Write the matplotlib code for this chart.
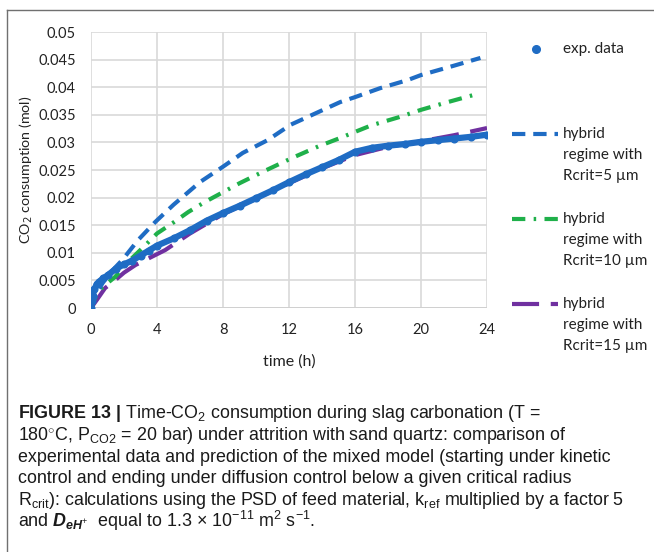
import matplotlib
matplotlib.use('Agg')
import matplotlib.pyplot as plt
from matplotlib.lines import Line2D

plt.rcParams['font.family'] = ['Lato', 'DejaVu Sans']
plt.rcParams['mathtext.fontset'] = 'custom'
plt.rcParams['mathtext.rm'] = 'Liberation Sans'
plt.rcParams['mathtext.it'] = 'Liberation Sans:italic'
plt.rcParams['mathtext.bf'] = 'Liberation Sans:bold'
plt.rcParams['mathtext.bfit'] = 'Liberation Sans:italic:bold'

# ------------------------------------------------------------
# data (time in h, CO2 in mol)

t_exp = [0, 0.05, 0.1, 0.2, 0.35, 0.5, 0.75, 1.0, 1.5, 2.0, 2.5, 3.0, 3.5,
         4.0, 5.0, 6.0, 7.0, 8.0, 9.0, 10, 11, 12, 13, 14, 15, 16, 17, 18,
         19, 20, 21, 22, 23, 24]
co2_exp = [0, 0.0012, 0.0022, 0.0034, 0.0043, 0.0048, 0.0054, 0.0059,
           0.0071, 0.0079, 0.0086, 0.0095, 0.0104, 0.0113, 0.0126, 0.0141,
           0.0158, 0.0172, 0.0185, 0.0199, 0.0213, 0.0228, 0.0242, 0.0255,
           0.0268, 0.0283, 0.0290, 0.0294, 0.0297, 0.0301, 0.0304, 0.0307,
           0.0310, 0.0314]

t_r5 = [0, 0.3, 0.7, 1.2, 1.9, 2.85, 3.9, 5, 6.6, 8, 9.2, 10.7, 12.1, 14,
        15.1, 16, 17.5, 19.2, 20, 22, 23.6]
co2_r5 = [0, 0.0025, 0.0045, 0.0065, 0.0087, 0.0123, 0.0156, 0.0187, 0.0228,
          0.0256, 0.0281, 0.0304, 0.0332, 0.0358, 0.0373, 0.0382, 0.0398,
          0.0413, 0.0422, 0.0439, 0.0453]

t_r10 = [0, 0.3, 0.7, 1.45, 2.3, 3.3, 4, 5, 5.9, 6.9, 9.0, 10.5, 12.2, 13.8,
         15.1, 16, 17, 18.7, 20, 21.5, 23.2]
co2_r10 = [0, 0.0022, 0.0038, 0.0056, 0.0085, 0.0114, 0.0135, 0.0155,
           0.0174, 0.0192, 0.0226, 0.0248, 0.0272, 0.0293, 0.0308, 0.0319,
           0.0331, 0.0346, 0.0359, 0.0372, 0.0386]

t_r15 = [0, 0.36, 0.85, 1.45, 2.0, 2.7, 3.5, 4.5, 6, 8, 10, 12, 14, 16, 18,
         20, 22, 24]
co2_r15 = [0, 0.0015, 0.0036, 0.0050, 0.0064, 0.0078, 0.0090, 0.0105,
           0.0135, 0.0170, 0.0198, 0.0226, 0.0253, 0.0277, 0.0292, 0.0302,
           0.0313, 0.0326]

x_ticks = [0, 4, 8, 12, 16, 20, 24]
y_ticks = [0, 0.005, 0.01, 0.015, 0.02, 0.025, 0.03, 0.035, 0.04, 0.045, 0.05]
y_ticklabels = ['0', '0.005', '0.01', '0.015', '0.02', '0.025', '0.03',
                '0.035', '0.04', '0.045', '0.05']

labels = [['exp. data'],
          ['hybrid', 'regime with', 'Rcrit=5 \u00b5m'],
          ['hybrid', 'regime with', 'Rcrit=10 \u00b5m'],
          ['hybrid', 'regime with', 'Rcrit=15 \u00b5m']]

caption = [
    r'$\mathbf{FIGURE\ 13\ |}$ Time-CO$_2$ consumption during slag carbonation (T =',
    r'180$^{\circ}$C, P$_{\mathrm{CO2}}$ = 20 bar) under attrition with sand quartz: comparison of',
    'experimental data and prediction of the mixed model (starting under kinetic',
    'control and ending under diffusion control below a given critical radius',
    r'R$_{\mathrm{crit}}$): calculations using the PSD of feed material, k$_{\mathrm{ref}}$ multiplied by a factor 5',
    r'and $\mathbfit{D}_{\mathbfit{eH}^{+}}$  equal to 1.3 $\times$ 10$^{-11}$ m$^2$ s$^{-1}$.',
]

# ------------------------------------------------------------
c_blue = '#1f6cc4'
c_green = '#1fb04a'
c_purple = '#7030a0'
ls_r5 = (0, (3.2, 1.9))
ls_r10 = (0, (3.2, 2.0, 0.6, 2.0))
ls_r15 = (0, (6.5, 2.8))

W, H = 654, 552
fig = plt.figure(figsize=(W / 100, H / 100), dpi=100)
ax = fig.add_axes([91 / W, 1 - 308 / H, (487 - 91) / W, (308 - 32) / H])

ax.plot(t_r15, co2_r15, color=c_purple, lw=3.0, linestyle=ls_r15, zorder=3)
ax.plot(t_r10, co2_r10, color=c_green, lw=3.0, linestyle=ls_r10, zorder=3)
ax.plot(t_r5, co2_r5, color=c_blue, lw=3.0, linestyle=ls_r5, zorder=3)
ax.plot(t_exp, co2_exp, color=c_blue, lw=4.5, marker='o', ms=4.8,
        solid_capstyle='round', zorder=4)

ax.set_xlim(0, 24)
ax.set_ylim(0, 0.05)
ax.set_xticks(x_ticks)
ax.set_yticks(y_ticks)
ax.set_yticklabels(y_ticklabels)
ax.tick_params(length=0, labelsize=10.5, colors='#222222', pad=11)
ax.grid(True, color='#d9d9d9', lw=1.2)
ax.set_axisbelow(True)
for s in ax.spines.values():
    s.set_visible(False)
ax.axhline(0, color='#d0d0d0', lw=1.4, zorder=1)

ax.set_xlabel('time (h)', fontsize=11.5, color='#222222', labelpad=12)
ax.set_ylabel('CO$_2$ consumption (mol)', fontsize=10.3, color='#222222',
              labelpad=2, math_fontfamily='dejavusans')

# legend drawn by hand (handles aligned with first text line)
def fx(px):
    return px / W

def fy(py):
    return 1 - py / H

fig.add_artist(Line2D([fx(536)], [fy(49)], marker='o', ms=5.5, color=c_blue,
                      lw=0, transform=fig.transFigure))
leg_rows = [(134, c_blue, ls_r5), (219, c_green, ls_r10), (304, c_purple, ls_r15)]
for (py, col, ls) in leg_rows:
    fig.add_artist(Line2D([fx(512), fx(558)], [fy(py), fy(py)], color=col,
                          lw=3.0, linestyle=ls, transform=fig.transFigure))
text_y = [49, 134, 219, 304]
for lines, py in zip(labels, text_y):
    for i, ln in enumerate(lines):
        fig.text(fx(563), fy(py + 21 * i), ln, fontsize=11, color='#222222',
                 ha='left', va='center')

# panel frame (top and left edges)
fig.add_artist(Line2D([fx(7), fx(654)], [fy(10), fy(10)], color='#707070',
                      lw=1.0, transform=fig.transFigure))
fig.add_artist(Line2D([fx(7), fx(7)], [fy(10), fy(552)], color='#707070',
                      lw=1.0, transform=fig.transFigure))

# caption
base_y = [418, 440, 462, 483, 505, 527]
for line, py in zip(caption, base_y):
    fig.text(fx(18), fy(py), line, fontsize=12.9, color='#1a1a1a',
             family='Liberation Sans', ha='left', va='baseline')

fig.savefig('out.png', dpi=100)
